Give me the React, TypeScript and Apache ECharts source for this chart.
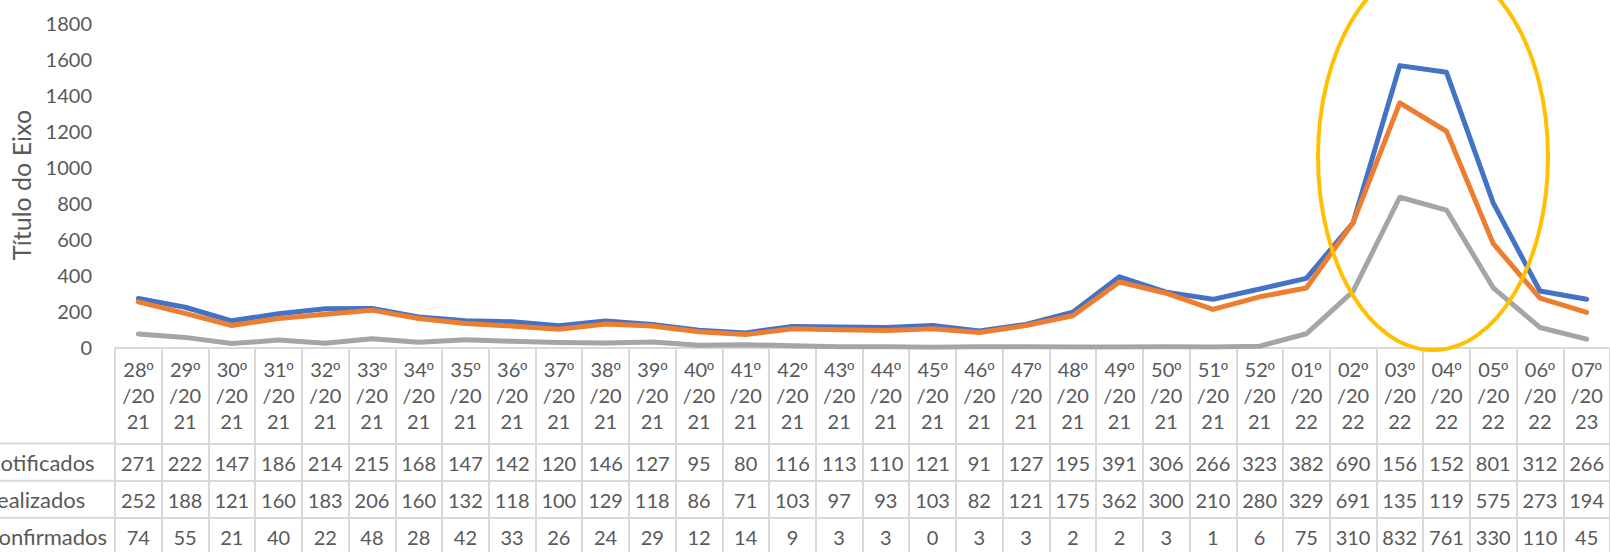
import React, { useEffect, useRef } from "react";
import * as echarts from "echarts";

const weeks = [
  "28º/2021", "29º/2021", "30º/2021", "31º/2021", "32º/2021", "33º/2021", "34º/2021", "35º/2021",
  "36º/2021", "37º/2021", "38º/2021", "39º/2021", "40º/2021", "41º/2021", "42º/2021", "43º/2021",
  "44º/2021", "45º/2021", "46º/2021", "47º/2021", "48º/2021", "49º/2021", "50º/2021", "51º/2021",
  "52º/2021", "01º/2022", "02º/2022", "03º/2022", "04º/2022", "05º/2022", "06º/2022", "07º/2023",
];

const notificados = [
  271, 222, 147, 186, 214, 215, 168, 147, 142, 120, 146, 127, 95, 80, 116, 113,
  110, 121, 91, 127, 195, 391, 306, 266, 323, 382, 690, 1562, 1525, 801, 312, 266,
];
const realizados = [
  252, 188, 121, 160, 183, 206, 160, 132, 118, 100, 129, 118, 86, 71, 103, 97,
  93, 103, 82, 121, 175, 362, 300, 210, 280, 329, 691, 1355, 1198, 575, 273, 194,
];
const confirmados = [
  74, 55, 21, 40, 22, 48, 28, 42, 33, 26, 24, 29, 12, 14, 9, 3,
  3, 0, 3, 3, 2, 2, 3, 1, 6, 75, 310, 832, 761, 330, 110, 45,
];

const seriesNames = ["Notificados", "Realizados", "Confirmados"];
const seriesColors = ["#4472C4", "#ED7D31", "#A5A5A5"];
const yTicks = { min: 0, max: 1800, interval: 200 };
const axisTitle = "Título do Eixo";

const FONT = "Lato, 'Liberation Sans', sans-serif";
const TEXT = "#595959";
const GRIDLINE = "#D9D9D9";

// cell text as shown by the narrow data-table cells (overflow clipped to 3 chars)
const cellText = (v: number) => String(v).slice(0, 3);
const headerText = (s: string) =>
  `${s.slice(0, 2)}{o|${s.slice(2, 3)}}\n${s.slice(3, 6)}\n${s.slice(6)}`;

export default function App() {
  const ref = useRef<HTMLDivElement>(null);

  useEffect(() => {
    if (!ref.current) return;
    const chart = echarts.init(ref.current, undefined, { renderer: "svg" });

    const gridLeft = 115;
    const gridTop = 22.7;
    const gridHeight = 324.6;
    const colW = 46.85;
    const gridWidth = colW * weeks.length;
    const axisY = gridTop + gridHeight;

    const rowOffsets = [96.2, 133.4, 170.4];
    const rowData = [notificados, realizados, confirmados];

    const dataAxes = rowData.map((arr, k) => ({
      type: "category",
      gridIndex: 0,
      position: "bottom",
      offset: rowOffsets[k],
      data: weeks,
      boundaryGap: true,
      axisLine: { show: true, lineStyle: { color: GRIDLINE, width: 2 } },
      axisTick: { show: false },
      splitLine: { show: false },
      axisLabel: {
        interval: 0,
        margin: 9,
        fontFamily: FONT,
        fontSize: 20,
        lineHeight: 20,
        color: TEXT,
        formatter: (_v: string, i: number) => cellText(arr[i]),
      },
    }));

    const labelFont = `22px ${FONT}`;

    const option: any = {
      animation: false,
      backgroundColor: "#ffffff",
      grid: { left: gridLeft, top: gridTop, width: gridWidth, height: gridHeight, containLabel: false },
      xAxis: [
        {
          type: "category",
          gridIndex: 0,
          position: "bottom",
          data: weeks,
          boundaryGap: true,
          axisLine: { show: true, lineStyle: { color: GRIDLINE, width: 2 } },
          axisTick: {
            show: true,
            interval: 0,
            length: 220,
            lineStyle: { color: GRIDLINE, width: 2 },
          },
          axisLabel: {
            interval: 0,
            margin: 9,
            fontFamily: FONT,
            fontSize: 20,
            lineHeight: 26,
            color: TEXT,
            formatter: (v: string) => headerText(v),
            rich: {
              o: {
                fontFamily: "'Liberation Sans', sans-serif",
                fontSize: 19,
                lineHeight: 26,
                color: TEXT,
              },
            },
          },
          splitLine: { show: false },
        },
        ...dataAxes,
      ],
      yAxis: {
        type: "value",
        min: yTicks.min,
        max: yTicks.max,
        interval: yTicks.interval,
        axisLine: { show: false },
        axisTick: { show: false },
        splitLine: { show: false },
        axisLabel: {
          margin: 23,
          fontFamily: FONT,
          fontSize: 20,
          color: TEXT,
          formatter: (v: number) => String(v),
        },
      },
      series: [notificados, realizados, confirmados].map((d, k) => ({
        name: seriesNames[k],
        type: "line",
        xAxisIndex: 0,
        data: d,
        showSymbol: false,
        symbol: "none",
        lineStyle: { color: seriesColors[k], width: 5, cap: "round", join: "round" },
        itemStyle: { color: seriesColors[k] },
        z: 2 + k,
      })),
      graphic: [
        {
          type: "text",
          x: 21,
          y: gridTop + gridHeight / 2,
          rotation: Math.PI / 2,
          style: {
            text: axisTitle,
            font: `25px ${FONT}`,
            fill: TEXT,
            align: "center",
            verticalAlign: "middle",
          },
        },
        ...rowOffsets.map((off) => ({
          type: "line",
          shape: { x1: 0, y1: axisY + off, x2: gridLeft, y2: axisY + off },
          style: { stroke: GRIDLINE, lineWidth: 2 },
        })),
        ...seriesNames.map((name, k) => ({
          type: "text",
          x: -16,
          y: axisY + rowOffsets[k] + 19,
          style: {
            text: name,
            font: labelFont,
            fill: TEXT,
            align: "left",
            verticalAlign: "middle",
          },
        })),
        {
          type: "ellipse",
          shape: { cx: 1433, cy: 157, rx: 115, ry: 193 },
          style: { fill: "none", stroke: "#FFC000", lineWidth: 4 },
          z: 100,
        },
      ],
    };

    chart.setOption(option);
    return () => chart.dispose();
  }, []);

  return (
    <div
      ref={ref}
      style={{ position: "absolute", left: 0, top: 0, width: 1610, height: 552 }}
    />
  );
}
